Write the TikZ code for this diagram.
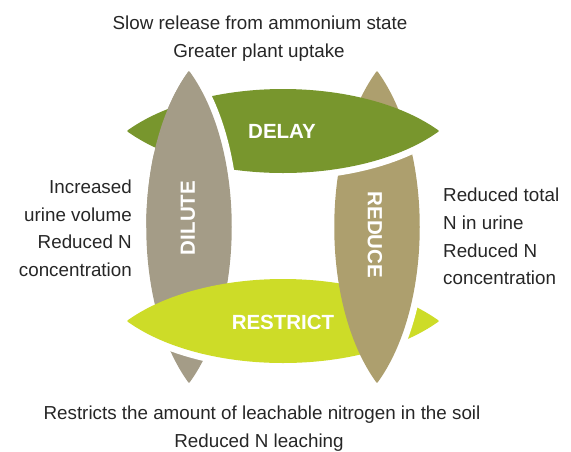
\documentclass[tikz,border=0pt]{standalone}
\usepackage{fontspec}
\setmainfont{Liberation Sans}
\definecolor{delayc}{HTML}{78962D}
\definecolor{dilutec}{HTML}{A49C87}
\definecolor{reducec}{HTML}{AD9F6E}
\definecolor{restrictc}{HTML}{CDDC28}
\definecolor{txt}{HTML}{262626}
\newcommand\HL[2]{({#1-155},#2) .. controls ({#1-78},{#2-55}) and ({#1+78},{#2-55}) .. ({#1+155},#2) .. controls ({#1+78},{#2+55}) and ({#1-78},{#2+55}) .. cycle}
\newcommand\VL[2]{(#1,{#2-155}) .. controls ({#1+56},{#2-78}) and ({#1+56},{#2+78}) .. (#1,{#2+155}) .. controls ({#1-56},{#2+78}) and ({#1-56},{#2-78}) .. cycle}
\begin{document}
\begin{tikzpicture}[x=1pt,y=-1pt,
  body/.style={font=\fontsize{18.8}{28}\selectfont, text=txt, inner sep=0pt},
  lbl/.style={font=\fontsize{20.5}{24}\selectfont\bfseries, text=white, inner sep=0pt},
  gap/.style={draw=white, line width=15pt},
  leaf/.style={fill=#1, draw=#1, line width=1.5pt, line join=round}]
\useasboundingbox (0,0) rectangle (571,451);
% DILUTE (bottom part under RESTRICT)
\path[leaf=dilutec] \VL{189}{227};
% RESTRICT over DILUTE
\begin{scope}\clip (0,321) rectangle (571,451); \draw[gap] \HL{283}{321}; \end{scope}
\path[leaf=restrictc] \HL{283}{321};
% REDUCE over RESTRICT
\begin{scope}\clip (377,0) rectangle (571,451); \draw[gap] \VL{377}{227}; \end{scope}
\path[leaf=reducec] \VL{377}{227};
% DELAY over REDUCE
\begin{scope}\clip (0,131) rectangle (571,451); \draw[gap] \HL{283}{131}; \end{scope}
\path[leaf=delayc] \HL{283}{131};
% DILUTE over DELAY
\begin{scope}\clip (189,0) rectangle (571,227); \draw[gap] \VL{189}{227}; \end{scope}
\begin{scope}\clip (0,0) rectangle (571,227); \path[leaf=dilutec] \VL{189}{227}; \end{scope}
% labels
\node[lbl] (tdelay) at (282,131) {DELAY};
\node[lbl, rotate=90] (tdilute) at (188,218) {DILUTE};
\node[lbl, rotate=-90] (treduce) at (375,235) {REDUCE};
\node[lbl] (trestrict) at (283,322) {RESTRICT};
% texts
\node[body, anchor=base] (top1) at (260,29.5) {Slow release from ammonium state};
\node[body, anchor=base] (top2) at (259,57) {Greater plant uptake};
\node[body, anchor=base east] (l1) at (132,193) {Increased};
\node[body, anchor=base east] (l2) at (132,221) {urine volume};
\node[body, anchor=base east] (l3) at (132,248) {Reduced N};
\node[body, anchor=base east] (l4) at (132,276) {concentration};
\node[body, anchor=base west] (r1) at (443,201) {Reduced total};
\node[body, anchor=base west] (r2) at (443,229) {N in urine};
\node[body, anchor=base west] (r3) at (443,257) {Reduced N};
\node[body, anchor=base west] (r4) at (443,284) {concentration};
\node[body, anchor=base] (b1) at (262,419) {Restricts the amount of leachable nitrogen in the soil};
\node[body, anchor=base] (b2) at (259,447) {Reduced N leaching};
\end{tikzpicture}
\end{document}
